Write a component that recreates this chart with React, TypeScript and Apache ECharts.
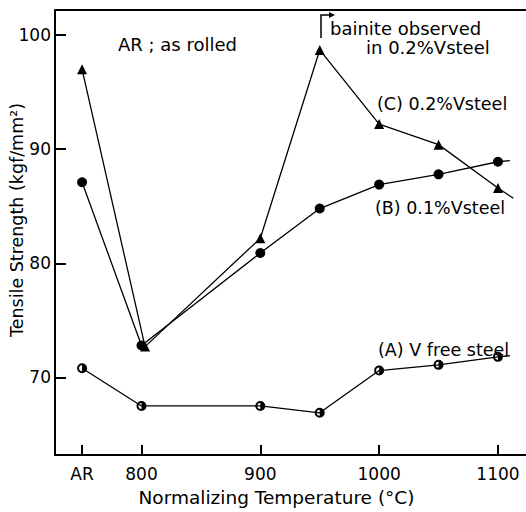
import React, { useEffect, useRef } from "react";
import * as echarts from "echarts";

// Tick positions and labels (x: normalizing temperature, "AR" = as rolled)
const xTickValues = [750, 800, 900, 1000, 1100];
const xTickLabels = ["AR", "800", "900", "1000", "1100"];
const yTickValues = [70, 80, 90, 100];

// (A) V free steel
const tempsA = [750, 800, 900, 950, 1000, 1050, 1100];
const strengthA = [70.8, 67.5, 67.5, 66.9, 70.6, 71.1, 71.8];
const tailA = [1110, 71.9];

// (B) 0.1%V steel
const tempsB = [750, 800, 900, 950, 1000, 1050, 1100];
const strengthB = [87.1, 72.8, 80.9, 84.8, 86.9, 87.8, 88.9];
const tailB = [1110, 89.0];

// (C) 0.2%V steel
const tempsC = [750, 803, 900, 950, 1000, 1050, 1100];
const strengthC = [97.0, 72.7, 82.2, 98.7, 92.2, 90.4, 86.6];
const tailC = [1113, 85.7];

const FONT = "DejaVu Sans";
const HALF_CIRCLE =
  "path://M0,-10 A10,10 0 1,1 0,10 A10,10 0 1,1 0,-10 Z M0,-6 A6,6 0 0,0 0,6 L0,-6 Z";

function build(temps: number[], vals: number[], tail: number[]) {
  const d: any[] = temps.map((t, i) => [t, vals[i]]);
  d.push({ value: tail, symbol: "none" });
  return d;
}

export default function App() {
  const ref = useRef<HTMLDivElement>(null);
  useEffect(() => {
    if (!ref.current) return;
    const chart = echarts.init(ref.current, undefined, { renderer: "svg" });
    const lineStyle = { color: "#000", width: 1.3 };
    const txt = (text: string, x: number, y: number, size = 17.5) => ({
      type: "text",
      left: x,
      top: y - size * 0.6,
      style: { text, fill: "#000", font: `${size}px '${FONT}'` },
    });
    chart.setOption({
      animation: false,
      backgroundColor: "#fff",
      grid: { left: 55, right: 0, top: 10, bottom: 50 },
      xAxis: {
        type: "value",
        min: 727.2,
        max: 1123.6,
        axisLine: { show: true, lineStyle: { color: "#000", width: 2 } },
        axisTick: {
          show: true,
          inside: true,
          length: 10,
          customValues: xTickValues,
          lineStyle: { color: "#000", width: 2 },
        },
        axisLabel: {
          customValues: xTickValues,
          formatter: (v: number) => xTickLabels[xTickValues.indexOf(v)] ?? "",
          color: "#000",
          fontFamily: FONT,
          fontSize: 17,
          margin: 10,
        },
        splitLine: { show: false },
        name: "Normalizing Temperature (°C)",
        nameLocation: "middle",
        nameGap: 33,
        nameTextStyle: {
          color: "#000",
          fontFamily: FONT,
          fontSize: 18.5,
          padding: [0, 28, 0, 0],
        },
      },
      yAxis: {
        type: "value",
        min: 63.2,
        max: 102.2,
        axisLine: { show: true, lineStyle: { color: "#000", width: 2 } },
        axisTick: {
          show: true,
          inside: true,
          length: 11,
          customValues: yTickValues,
          lineStyle: { color: "#000", width: 2 },
        },
        axisLabel: {
          customValues: yTickValues,
          color: "#000",
          fontFamily: FONT,
          fontSize: 17,
          margin: 4,
        },
        splitLine: { show: false },
      },
      graphic: [
        {
          type: "line",
          shape: { x1: 55, y1: 10, x2: 526, y2: 10 },
          style: { stroke: "#000", lineWidth: 2 },
        },
        {
          type: "text",
          x: 17,
          y: 220,
          rotation: Math.PI / 2,
          style: {
            text: "Tensile Strength (kgf/mm²)",
            fill: "#000",
            font: `17.5px '${FONT}'`,
            textAlign: "center",
            textVerticalAlign: "middle",
          },
        },
        txt("AR ; as rolled", 118, 46, 18),
        txt("bainite observed", 330, 30, 18),
        txt("in 0.2%Vsteel", 366, 49, 18),
        txt("(C) 0.2%Vsteel", 377, 105),
        txt("(B) 0.1%Vsteel", 375, 209),
        txt("(A) V free steel", 378, 351),
        {
          type: "polyline",
          shape: { points: [[321, 38], [321, 15], [330, 15]] },
          style: { stroke: "#000", lineWidth: 1.5, fill: null },
        },
        {
          type: "polygon",
          shape: { points: [[329, 12], [335, 15], [329, 18]] },
          style: { fill: "#000" },
        },
      ],
      series: [
        {
          name: "(A) V free steel",
          type: "line",
          data: build(tempsA, strengthA, tailA),
          symbol: HALF_CIRCLE,
          symbolSize: 10,
          showAllSymbol: true,
          itemStyle: { color: "#000" },
          lineStyle,
        },
        {
          name: "(B) 0.1%V steel",
          type: "line",
          data: build(tempsB, strengthB, tailB),
          symbol: "circle",
          symbolSize: 10,
          showAllSymbol: true,
          itemStyle: { color: "#000" },
          lineStyle,
        },
        {
          name: "(C) 0.2%V steel",
          type: "line",
          data: build(tempsC, strengthC, tailC),
          symbol: "triangle",
          symbolSize: 10,
          showAllSymbol: true,
          itemStyle: { color: "#000" },
          lineStyle,
        },
      ],
    });
    return () => chart.dispose();
  }, []);
  return (
    <div
      ref={ref}
      style={{ position: "fixed", left: 0, top: 0, width: 526, height: 512 }}
    />
  );
}
